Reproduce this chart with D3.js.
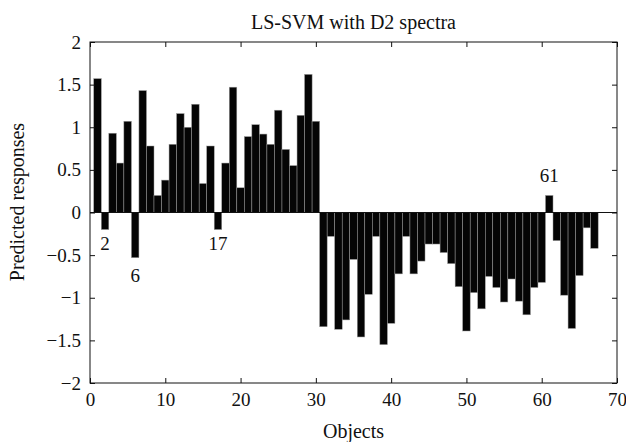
<!DOCTYPE html>
<html>
<head>
<meta charset="utf-8">
<script src="https://cdn.jsdelivr.net/npm/d3@7"></script>
<style>
  body { margin: 0; background: #fff; }
  text { font-family: "Liberation Serif", "DejaVu Serif", serif; fill: #111; }
</style>
</head>
<body>
<div id="chart"></div>
<script>
// bar values, objects 1..67
const objects = d3.range(1, 68);
const responses = [
  1.57, -0.2, 0.93, 0.58, 1.07, -0.53, 1.43, 0.78, 0.2, 0.38,
  0.8, 1.16, 1.0, 1.27, 0.34, 0.78, -0.2, 0.58, 1.47, 0.29,
  0.89, 1.03, 0.92, 0.8, 1.2, 0.74, 0.55, 1.14, 1.62, 1.07,
  -1.34, -0.28, -1.37, -1.26, -0.55, -1.46, -0.96, -0.28, -1.55, -1.3,
  -0.72, -0.28, -0.72, -0.57, -0.37, -0.37, -0.47, -0.6, -0.87, -1.39,
  -0.94, -1.13, -0.75, -0.88, -1.05, -0.78, -1.04, -1.2, -0.88, -0.82,
  0.2, -0.33, -0.97, -1.36, -0.74, -0.18, -0.42
];
const xTicks = [0, 10, 20, 30, 40, 50, 60, 70];
const yTicks = [-2, -1.5, -1, -0.5, 0, 0.5, 1, 1.5, 2];
// labelled outliers: object number and label height
const markObj = [2, 6, 17, 61];
const markY = [-0.44, -0.81, -0.44, 0.36];

const svgWidth = 626;
const svgHeight = 442;
const margin = { top: 42, right: 9, bottom: 59, left: 90 };
const width = svgWidth - margin.left - margin.right;
const height = svgHeight - margin.top - margin.bottom;

const svg = d3.select("#chart")
  .append("svg")
  .attr("width", svgWidth)
  .attr("height", svgHeight);

const chartGroup = svg.append("g")
  .attr("transform", `translate(${margin.left}, ${margin.top})`);

const x = d3.scaleLinear().domain([0, 70]).range([0, width]);
const y = d3.scaleLinear().domain([-2, 2]).range([height, 0]);

const fmt = d => d < 0 ? "\u2212" + Math.abs(d) : String(d);

// bars, full width so neighbours touch
chartGroup.selectAll("rect.bar")
  .data(objects)
  .enter()
  .append("rect")
  .attr("class", "bar")
  .attr("x", d => x(d - 0.5))
  .attr("width", x(1) - x(0))
  .attr("y", (d, i) => y(Math.max(0, responses[i])))
  .attr("height", (d, i) => Math.abs(y(responses[i]) - y(0)))
  .attr("fill", "#050505")
  .attr("stroke", "#9a9a9a")
  .attr("stroke-width", 0.5);

// zero line
chartGroup.append("line")
  .attr("x1", 0).attr("x2", width)
  .attr("y1", y(0)).attr("y2", y(0))
  .attr("stroke", "#111").attr("stroke-width", 1);

// axes, ticks pointing inward on all four sides
const axisStyle = g => {
  g.select(".domain").remove();
  g.selectAll("line").attr("stroke", "#111");
  g.selectAll("text").style("font-size", "19px").attr("fill", "#111");
};

chartGroup.append("g")
  .attr("transform", `translate(0, ${height})`)
  .call(d3.axisBottom(x).tickValues(xTicks).tickSizeInner(-5).tickSizeOuter(0).tickPadding(10))
  .call(axisStyle);

chartGroup.append("g")
  .call(d3.axisTop(x).tickValues(xTicks).tickSizeInner(-5).tickSizeOuter(0).tickFormat(""))
  .call(axisStyle);

chartGroup.append("g")
  .call(d3.axisLeft(y).tickValues(yTicks).tickSizeInner(-5).tickSizeOuter(0).tickPadding(9).tickFormat(fmt))
  .call(axisStyle);

chartGroup.append("g")
  .attr("transform", `translate(${width}, 0)`)
  .call(d3.axisRight(y).tickValues(yTicks).tickSizeInner(-5).tickSizeOuter(0).tickFormat(""))
  .call(axisStyle);

// box
chartGroup.append("rect")
  .attr("width", width).attr("height", height)
  .attr("fill", "none").attr("stroke", "#111").attr("stroke-width", 1);

// outlier labels
chartGroup.selectAll("text.mark")
  .data(markObj)
  .enter()
  .append("text")
  .attr("class", "mark")
  .attr("x", d => x(d))
  .attr("y", (d, i) => y(markY[i]))
  .attr("text-anchor", "middle")
  .style("font-size", "19px")
  .text(d => d);

// title and axis labels
svg.append("text")
  .attr("x", margin.left + width / 2)
  .attr("y", 29)
  .attr("text-anchor", "middle")
  .style("font-size", "20px")
  .text("LS-SVM with D2 spectra");

svg.append("text")
  .attr("x", margin.left + width / 2)
  .attr("y", 438)
  .attr("text-anchor", "middle")
  .style("font-size", "20px")
  .text("Objects");

svg.append("text")
  .attr("transform", "rotate(-90)")
  .attr("x", -202)
  .attr("y", 24)
  .attr("text-anchor", "middle")
  .style("font-size", "20px")
  .text("Predicted responses");
</script>
</body>
</html>
